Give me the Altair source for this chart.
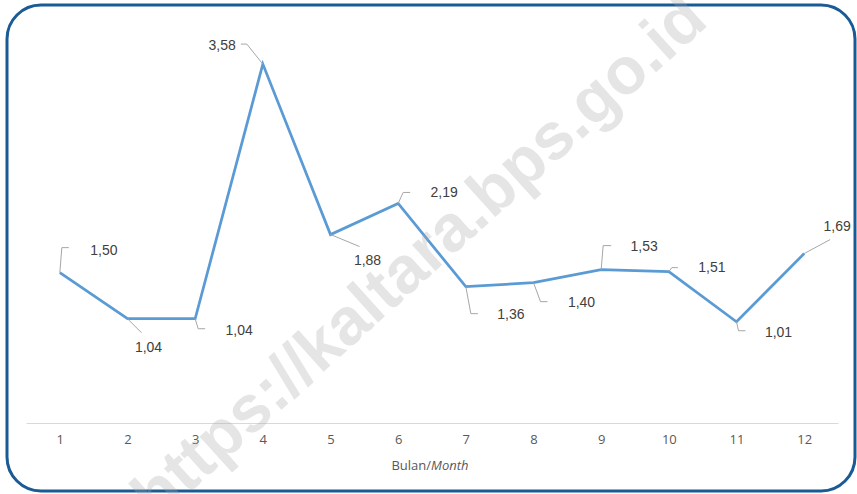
import altair as alt
import pandas as pd

months = [1, 2, 3, 4, 5, 6, 7, 8, 9, 10, 11, 12]
values = [1.50, 1.04, 1.04, 3.58, 1.88, 2.19, 1.36, 1.40, 1.53, 1.51, 1.01, 1.69]
labels = ["1,50", "1,04", "1,04", "3,58", "1,88", "2,19", "1,36", "1,40", "1,53", "1,51", "1,01", "1,69"]

df = pd.DataFrame({"month": months, "value": values, "label": labels})

W, H = 812, 401
LEFT, TOP = 26, 22

xenc = alt.X("month:O", scale=alt.Scale(type="point", padding=0.5),
             axis=alt.Axis(title=None, labelAngle=0, ticks=False, grid=False,
                           domainColor="#d9d9d9", domainWidth=1,
                           labelColor="#595959", labelFont="Open Sans",
                           labelFontSize=13, labelPadding=10))
yenc = alt.Y("value:Q", scale=alt.Scale(domain=[0, 4], nice=False), axis=None)

# label placement (style): text offsets and leader-line segments in pixels
layout = {
    1: dict(dx=44, dy=-22, align="center", seg=[(0, 0, 2, -25), (2, -25, 9, -25)]),
    2: dict(dx=21, dy=29, align="center", seg=[(0, 0, 14, 14)]),
    3: dict(dx=44, dy=12, align="center", seg=[(0, 0, 3, 10), (3, 10, 10, 10)]),
    4: dict(dx=-27, dy=-18, align="right", seg=[(0, 0, -16, -20), (-16, -20, -22, -20)]),
    5: dict(dx=37, dy=26, align="center", seg=[(0, 0, 29, 12)]),
    6: dict(dx=46, dy=-10, align="center", seg=[(0, 0, 5, -11), (5, -11, 12, -11)]),
    7: dict(dx=45, dy=28, align="center", seg=[(0, 0, 5, 27), (5, 27, 12, 27)]),
    8: dict(dx=48, dy=20, align="center", seg=[(0, 0, 7, 19), (7, 19, 14, 19)]),
    9: dict(dx=43, dy=-23, align="center", seg=[(0, 0, 2, -24), (2, -24, 10, -24)]),
    10: dict(dx=43, dy=-4, align="center", seg=[(0, 0, 3, -4), (3, -4, 9, -4)]),
    11: dict(dx=42, dy=11, align="center", seg=[(0, 0, 2, 9), (2, 9, 9, 9)]),
    12: dict(dx=33, dy=-27, align="center", seg=[(0, 0, 26, -14)]),
}

one = pd.DataFrame({"a": [0]})

frame = alt.Chart(one).mark_rect(
    filled=False, stroke="#1b5b95", strokeWidth=3, cornerRadius=34
).encode(x=alt.value(7 - LEFT), x2=alt.value(855 - LEFT),
         y=alt.value(5 - TOP), y2=alt.value(491 - TOP))

watermark = alt.Chart(one).mark_text(
    text="https://kaltara.bps.go.id", font="Liberation Sans", fontWeight="bold",
    fontSize=66, angle=318, color="#a8a8a8", opacity=0.29,
    align="center", baseline="middle"
).encode(x=alt.value(420 - LEFT), y=alt.value(258 - TOP))

line = alt.Chart(df).mark_line(color="#5b9bd5", strokeWidth=2.75).encode(x=xenc, y=yenc)

layers = [frame, line]

for m, lay in layout.items():
    sub = alt.Chart(df).transform_filter(alt.datum.month == m)
    for (x0, y0, x1, y1) in lay["seg"]:
        layers.append(
            sub.mark_rule(color="#a6a6a6", strokeWidth=1,
                          xOffset=x0, yOffset=y0, x2Offset=x1, y2Offset=y1)
            .encode(x=xenc, y=yenc, x2="month:O", y2="value:Q")
        )
    layers.append(
        sub.mark_text(font="Liberation Sans", fontSize=14, color="#404040",
                      align=lay["align"], baseline="middle",
                      dx=lay["dx"], dy=lay["dy"])
        .encode(x=xenc, y=yenc, text="label:N")
    )

title1 = alt.Chart(one).mark_text(
    text="Bulan/", font="Open Sans", fontSize=13, color="#595959",
    align="right", baseline="middle"
).encode(x=alt.value(431 - LEFT), y=alt.value(466 - TOP))
title2 = alt.Chart(one).mark_text(
    text="Month", font="Open Sans", fontSize=13, fontStyle="italic", color="#595959",
    align="left", baseline="middle"
).encode(x=alt.value(431 - LEFT), y=alt.value(466 - TOP))

layers += [title1, title2, watermark]

chart = alt.layer(*layers).properties(
    width=W, height=H,
    autosize=alt.AutoSizeParams(type="none"),
    padding={"left": LEFT, "top": TOP, "right": 857 - LEFT - W, "bottom": 494 - TOP - H},
    background="white",
).configure_view(stroke=None)

chart.save("out.html", embed_options={"renderer": "svg", "actions": False})
